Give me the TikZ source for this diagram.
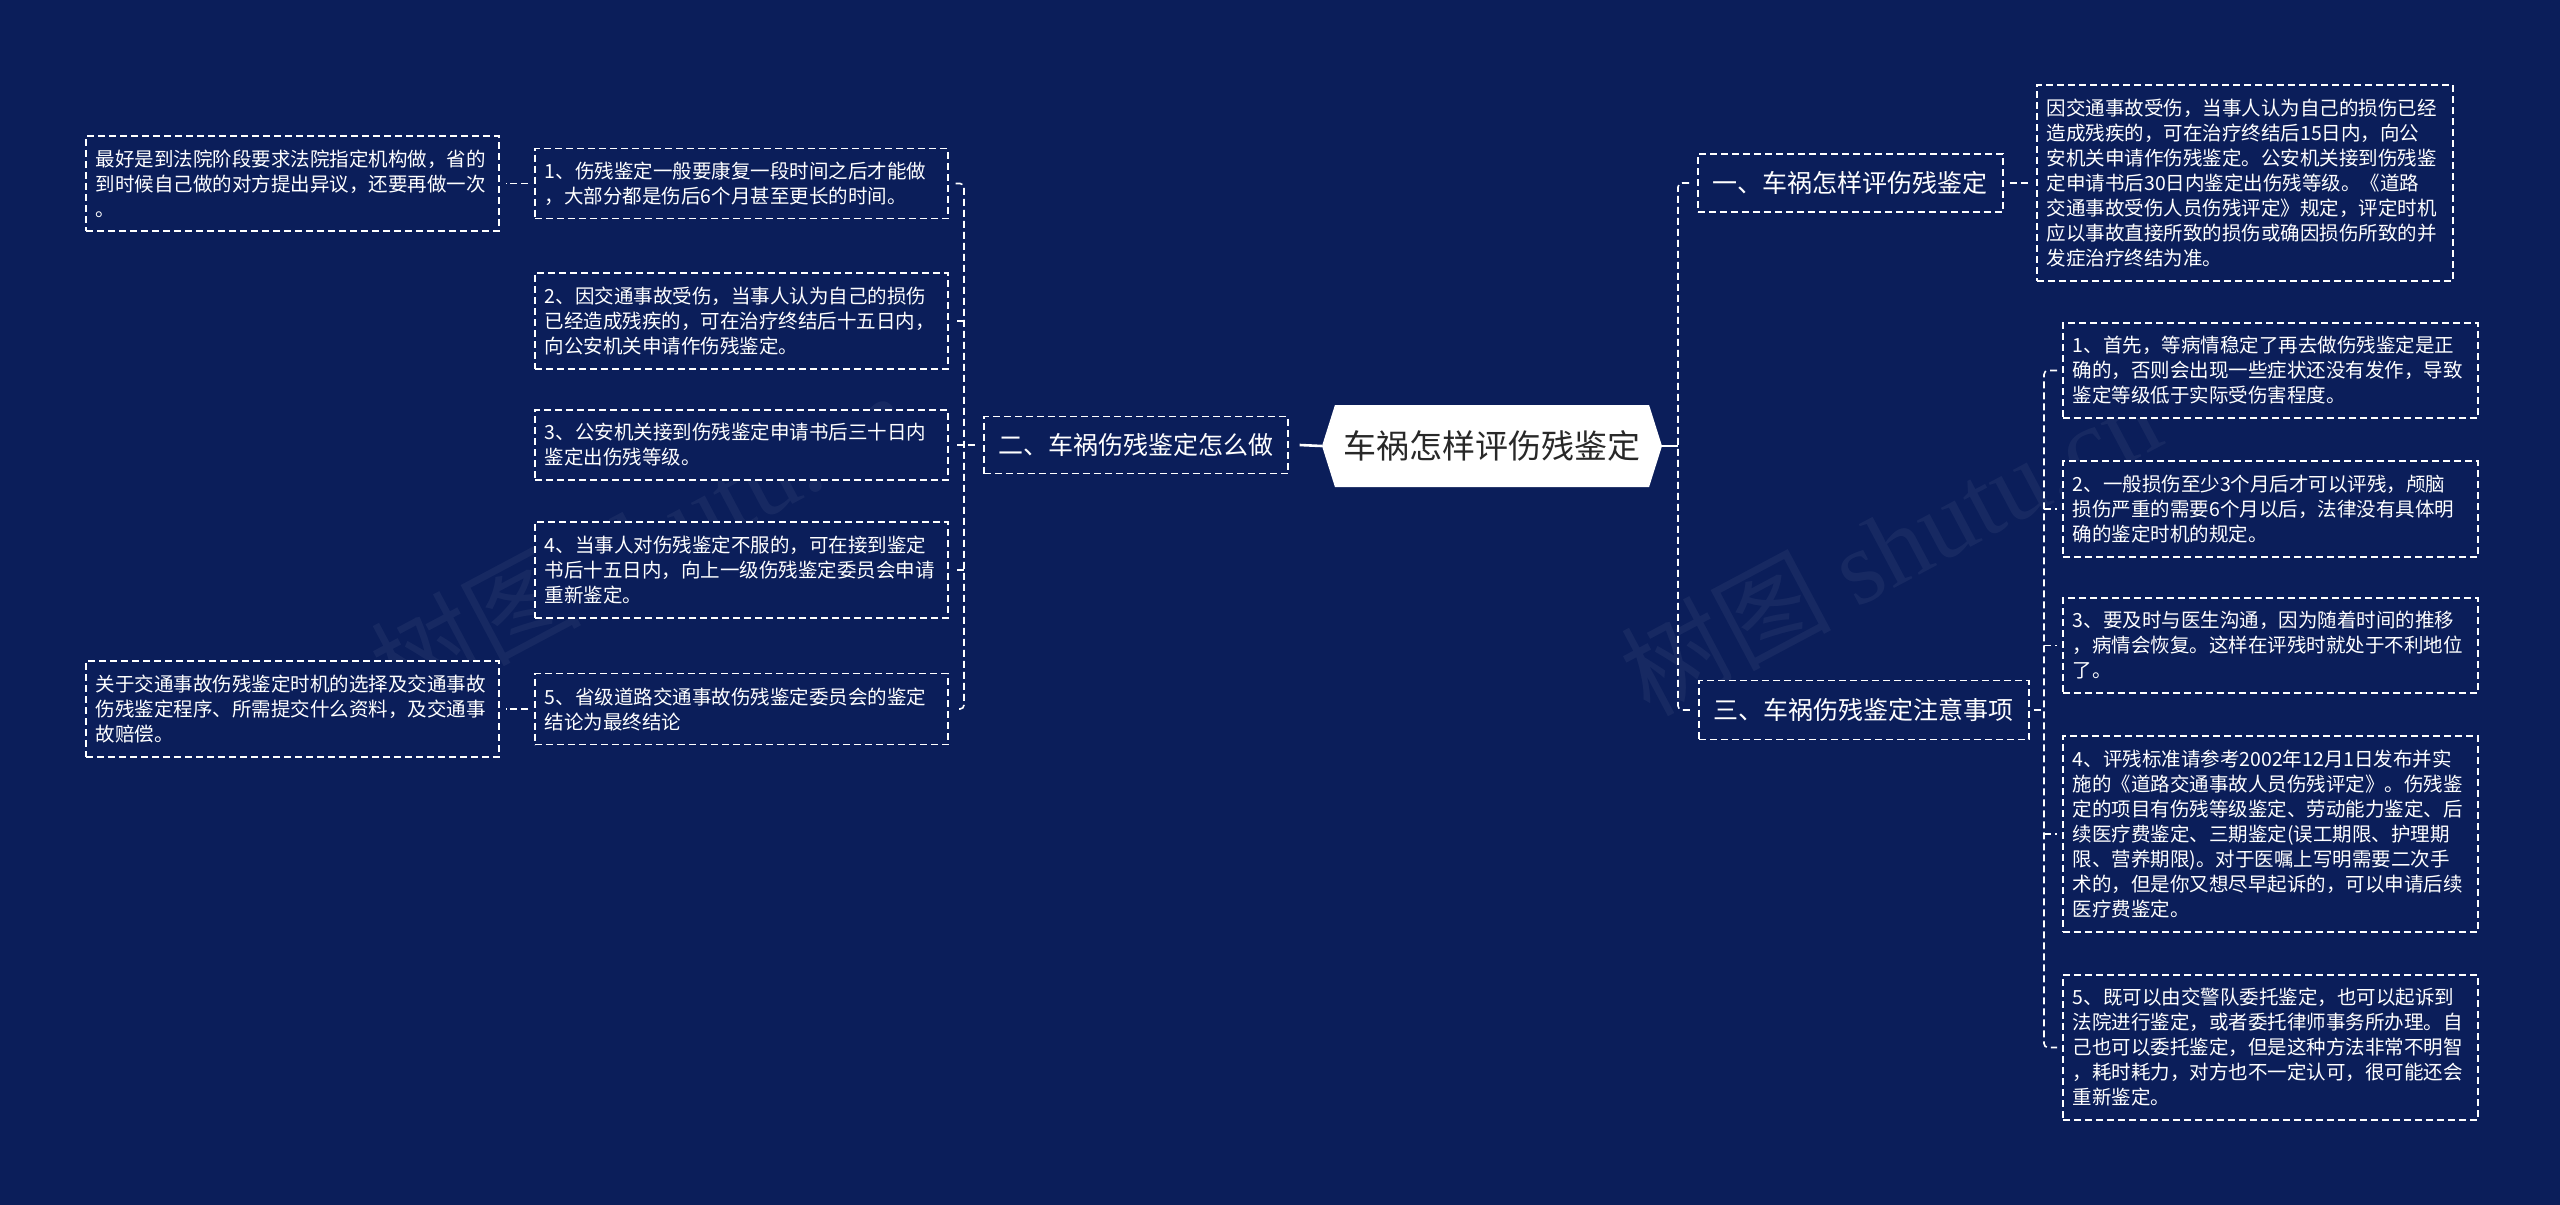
\documentclass[tikz,border=0pt]{standalone}
\usepackage{fontspec}
\setmainfont{Noto Sans CJK SC}
\newfontfamily\wmfont{Liberation Serif}
\usetikzlibrary{shapes.symbols}
\definecolor{bg}{RGB}{11,30,90}
\definecolor{roottext}{RGB}{40,40,40}
\begin{document}
\begin{tikzpicture}[x=1pt,y=-1pt,
  dashline/.style={draw=white,line width=1.6pt,dash pattern=on 7pt off 4pt},
  box/.style={dashline,fill=bg,text=white,font=\fontsize{19.5}{25}\selectfont,
    align=left,inner xsep=10pt,inner ysep=8pt,anchor=west},
  topic/.style={dashline,fill=bg,text=white,font=\fontsize{25}{30}\selectfont,
    align=center,inner xsep=8pt,anchor=west},
  link/.style={dashline},
  rootlink/.style={draw=white,line width=2.6pt},
  wm/.style={text=white,opacity=0.05,rotate=28,font=\fontsize{105}{110}\selectfont}
]
\useasboundingbox (0,0) rectangle (2560,1205);
\fill[bg] (0,0) rectangle (2560,1205);

% faint watermarks
\node[wm] (wm1) at (640,540) {树图 {\wmfont shutu.cn}};
\node[wm] (wm2) at (1890,545) {树图 {\wmfont shutu.cn}};

% root
\node[signal,signal to=west and east,signal pointer angle=145,fill=white,
  minimum width=340pt,minimum height=82pt,inner xsep=4pt,
  text=roottext,font=\fontsize{33}{36}\selectfont] (root) at (1492,446) {车祸怎样评伤残鉴定};

% level 1
\node[topic,minimum width=304pt,minimum height=57pt] (t2) at (983,445) {二、车祸伤残鉴定怎么做};
\node[topic,minimum width=305pt,minimum height=58pt] (t1) at (1697,183) {一、车祸怎样评伤残鉴定};
\node[topic,minimum width=330pt,minimum height=59pt] (t3) at (1698,710) {三、车祸伤残鉴定注意事项};

% left branch
\node[box,minimum width=413pt,text width=393pt,minimum height=70pt] (b1) at (534,183.5)
 {1、伤残鉴定一般要康复一段时间之后才能做\\，大部分都是伤后6个月甚至更长的时间。};
\node[box,minimum width=413pt,text width=393pt,minimum height=96pt] (b2) at (534,321)
 {2、因交通事故受伤，当事人认为自己的损伤\\已经造成残疾的，可在治疗终结后十五日内，\\向公安机关申请作伤残鉴定。};
\node[box,minimum width=413pt,text width=393pt,minimum height=70pt] (b3) at (534,445)
 {3、公安机关接到伤残鉴定申请书后三十日内\\鉴定出伤残等级。};
\node[box,minimum width=413pt,text width=393pt,minimum height=96pt] (b4) at (534,570)
 {4、当事人对伤残鉴定不服的，可在接到鉴定\\书后十五日内，向上一级伤残鉴定委员会申请\\重新鉴定。};
\node[box,minimum width=413pt,text width=393pt,minimum height=71pt] (b5) at (534,709)
 {5、省级道路交通事故伤残鉴定委员会的鉴定\\结论为最终结论};
\node[box,minimum width=413pt,text width=393pt,minimum height=95pt] (la) at (85,183.5)
 {最好是到法院阶段要求法院指定机构做，省的\\到时候自己做的对方提出异议，还要再做一次\\。};
\node[box,minimum width=413pt,text width=393pt,minimum height=96pt] (lb) at (85,709)
 {关于交通事故伤残鉴定时机的选择及交通事故\\伤残鉴定程序、所需提交什么资料，及交通事\\故赔偿。};

% right branch
\node[box,minimum width=416pt,text width=396pt,minimum height=196pt] (d1) at (2036,183)
 {因交通事故受伤，当事人认为自己的损伤已经\\造成残疾的，可在治疗终结后15日内，向公\\安机关申请作伤残鉴定。公安机关接到伤残鉴\\定申请书后30日内鉴定出伤残等级。《道路\\交通事故受伤人员伤残评定》规定，评定时机\\应以事故直接所致的损伤或确因损伤所致的并\\发症治疗终结为准。};
\node[box,minimum width=415pt,text width=395pt,minimum height=95pt] (r1) at (2062,370.5)
 {1、首先，等病情稳定了再去做伤残鉴定是正\\确的，否则会出现一些症状还没有发作，导致\\鉴定等级低于实际受伤害程度。};
\node[box,minimum width=415pt,text width=395pt,minimum height=96pt] (r2) at (2062,509)
 {2、一般损伤至少3个月后才可以评残，颅脑\\损伤严重的需要6个月以后，法律没有具体明\\确的鉴定时机的规定。};
\node[box,minimum width=415pt,text width=395pt,minimum height=95pt] (r3) at (2062,645.5)
 {3、要及时与医生沟通，因为随着时间的推移\\，病情会恢复。这样在评残时就处于不利地位\\了。};
\node[box,minimum width=415pt,text width=395pt,minimum height=196pt] (r4) at (2062,834)
 {4、评残标准请参考2002年12月1日发布并实\\施的《道路交通事故人员伤残评定》。伤残鉴\\定的项目有伤残等级鉴定、劳动能力鉴定、后\\续医疗费鉴定、三期鉴定(误工期限、护理期\\限、营养期限)。对于医嘱上写明需要二次手\\术的，但是你又想尽早起诉的，可以申请后续\\医疗费鉴定。};
\node[box,minimum width=415pt,text width=395pt,minimum height=145pt] (r5) at (2062,1047.5)
 {5、既可以由交警队委托鉴定，也可以起诉到\\法院进行鉴定，或者委托律师事务所办理。自\\己也可以委托鉴定，但是这种方法非常不明智\\，耗时耗力，对方也不一定认可，很可能还会\\重新鉴定。};

% spine junctions
\coordinate (ls) at (964,445);
\coordinate (rs) at (1678,446);
\coordinate (ss) at (2044,710);

% root links (solid)
\draw[rootlink] (root.west) -- ([xshift=11pt]t2.east);
\draw[rootlink] (root.east) -- (rs);

% left spine
\draw[link,rounded corners=4pt] ([xshift=7pt]b1.east) -| (ls) |- ([xshift=7pt]b5.east);
\draw[link] (ls |- b2.east) -- ([xshift=7pt]b2.east);
\draw[link] (ls |- b3.east) -- ([xshift=7pt]b3.east);
\draw[link] (ls |- b4.east) -- ([xshift=7pt]b4.east);
\draw[link] ([xshift=-8pt]t2.west) -- (ls |- t2.west);
\draw[link] ([xshift=-6pt]b1.west) -- ([xshift=6pt]la.east);
\draw[link] ([xshift=-6pt]b5.west) -- ([xshift=6pt]lb.east);

% right spine
\draw[link,rounded corners=4pt] ([xshift=-8pt]t1.west) -| (rs) |- ([xshift=-8pt]t3.west);
\draw[link] ([xshift=6pt]t1.east) -- ([xshift=-6pt]d1.west);
\draw[link] ([xshift=4pt]t3.east) -- (ss);
\draw[link,rounded corners=4pt] ([xshift=-5pt]r1.west) -| (ss) |- ([xshift=-5pt]r5.west);
\draw[link] (ss |- r2.west) -- ([xshift=-5pt]r2.west);
\draw[link] (ss |- r3.west) -- ([xshift=-5pt]r3.west);
\draw[link] (ss |- r4.west) -- ([xshift=-5pt]r4.west);
\end{tikzpicture}
\end{document}
